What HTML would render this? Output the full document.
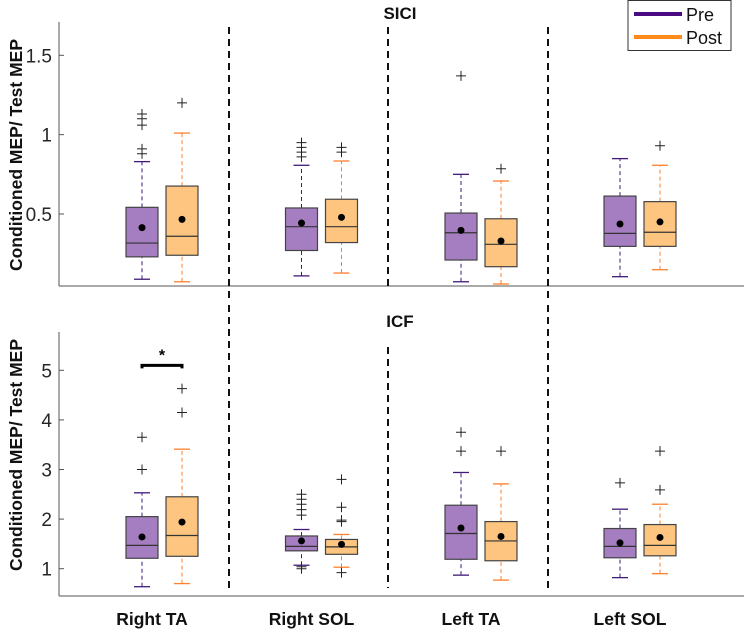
<!DOCTYPE html>
<html><head><meta charset="utf-8"><style>
body{margin:0;background:#fff}
svg{display:block;font-family:"Liberation Sans",Arial,sans-serif}
</style></head><body>
<svg id="chart" width="744" height="631" viewBox="0 0 744 631"></svg>
<script>
const categories=["Right TA","Right SOL","Left TA","Left SOL"];
const groups=["Pre","Post"];
// each: [lo, q1, median, q3, hi, mean]
const siciPre=[[0.089,0.23,0.317,0.542,0.83,0.414],[0.11,0.27,0.42,0.538,0.807,0.443],[0.073,0.21,0.382,0.506,0.75,0.397],[0.105,0.296,0.378,0.613,0.849,0.437]];
const siciPost=[[0.073,0.24,0.36,0.676,1.01,0.466],[0.128,0.32,0.42,0.593,0.834,0.479],[0.059,0.168,0.309,0.47,0.708,0.33],[0.149,0.296,0.385,0.578,0.807,0.45]];
const siciPreOut=[[1.13,1.10,1.06,0.91,0.88],[0.95,0.92,0.89,0.86],[1.37],[]];
const siciPostOut=[[1.2],[0.92,0.89],[0.785],[0.93]];
const icfPre=[[0.637,1.21,1.47,2.05,2.53,1.64],[1.07,1.36,1.45,1.66,1.79,1.56],[0.87,1.19,1.71,2.28,2.94,1.82],[0.82,1.22,1.45,1.81,2.2,1.52]];
const icfPost=[[0.70,1.25,1.67,2.45,3.41,1.94],[1.03,1.29,1.44,1.59,1.69,1.49],[0.77,1.16,1.56,1.95,2.71,1.65],[0.9,1.26,1.47,1.89,2.30,1.63]];
const icfPreOut=[[3.0,3.65],[2.5,2.4,2.3,2.19,2.08,1.04,1.0],[3.75,3.37],[2.73]];
const icfPostOut=[[4.15,4.63],[2.8,2.24,1.98,1.95,0.92],[3.37],[2.59,3.37]];
const siciTicks=[0.5,1,1.5];
const icfTicks=[1,2,3,4,5];

const svg=document.getElementById('chart');
const NS='http://www.w3.org/2000/svg';
function mk(tag,attrs,parent){const e=document.createElementNS(NS,tag);for(const k in attrs)e.setAttribute(k,attrs[k]);(parent||svg).appendChild(e);return e;}
const catX=[162,321.5,481,640];
const off=20, bw=32;
const colors={Pre:{fill:'#a57dc1',wh:'#3f1a7a'},Post:{fill:'#fdc57f',wh:'#ff7f2a'}};

function panel(name,yfn,top,base,ticks,pre,post,preOut,postOut,dashes){
  const g=mk('g',{});
  
  
  mk('line',{x1:59,y1:top,x2:59,y2:base,stroke:'#555','stroke-width':1},g);
  mk('line',{x1:59,y1:base,x2:744,y2:base,stroke:'#555','stroke-width':1},g);
  ticks.forEach(t=>{
    const y=yfn(t);
    mk('line',{x1:59,y1:y,x2:64,y2:y,stroke:'#555'},g);
    const tx=mk('text',{x:52,y:y+7,'text-anchor':'end','font-size':19,fill:'#262626'},g);
    tx.textContent=String(t);
    
    
  });
  dashes.forEach(d=>{
    const l=mk('line',{x1:d[0],y1:d[1],x2:d[0],y2:d[2],stroke:'#111','stroke-width':2,'stroke-dasharray':'7,5'},g);
    
    
  });
  [[pre,preOut,'Pre',-off],[post,postOut,'Post',off]].forEach(([data,outs,grp,dx])=>{
    data.forEach((s,i)=>{
      const cx=catX[i]+dx;
      const bg=mk('g',{},g);
      
      
      const c=colors[grp];
      mk('line',{x1:cx,y1:yfn(s[0]),x2:cx,y2:yfn(s[1]),stroke:c.wh,'stroke-dasharray':'4,3'},bg);
      mk('line',{x1:cx,y1:yfn(s[3]),x2:cx,y2:yfn(s[4]),stroke:c.wh,'stroke-dasharray':'4,3'},bg);
      mk('line',{x1:cx-8,y1:yfn(s[0]),x2:cx+8,y2:yfn(s[0]),stroke:c.wh,'stroke-width':1.3},bg);
      mk('line',{x1:cx-8,y1:yfn(s[4]),x2:cx+8,y2:yfn(s[4]),stroke:c.wh,'stroke-width':1.3},bg);
      mk('rect',{x:cx-bw/2,y:yfn(s[3]),width:bw,height:yfn(s[1])-yfn(s[3]),fill:c.fill,stroke:'#444','stroke-width':1.2},bg);
      mk('line',{x1:cx-bw/2,y1:yfn(s[2]),x2:cx+bw/2,y2:yfn(s[2]),stroke:'#333','stroke-width':1.2},bg);
      mk('circle',{cx:cx,cy:yfn(s[5]),r:3.5,fill:'#000'},bg);
      outs[i].forEach(v=>{
        const y=yfn(v);
        const p=mk('path',{d:`M${cx-5} ${y}H${cx+5}M${cx} ${y-5}V${y+5}`,stroke:'#222','stroke-width':1},bg);
        
        
      });
    });
  });
}
const ySici=v=>214-(v-0.5)*158.7;
const yIcf=v=>568.7-(v-1)*49.6;
panel('sici',ySici,22,286,siciTicks,siciPre,siciPost,siciPreOut,siciPostOut,[[229,27,300],[388,27,286],[548,27,300]]);
panel('icf',yIcf,332,596,icfTicks,icfPre,icfPost,icfPreOut,icfPostOut,[[229,305,588],[388,347,588],[548,305,588]]);

// significance bracket
const bx1=catX[0]-off, bx2=catX[0]+off, by=yIcf(5.1);
const br=mk('path',{d:`M${bx1} ${by+3}V${by}H${bx2}V${by+3}`,stroke:'#000','stroke-width':3,fill:'none'});


const st=mk('text',{x:catX[0],y:by-5,'text-anchor':'middle','font-size':16,'font-weight':'bold'});
st.textContent='*';



function txt(x,y,s,size,name,extra){const t=mk('text',Object.assign({x:x,y:y,'font-size':size,'font-weight':'bold','text-anchor':'middle',fill:'#111'},extra||{}));t.textContent=s;return t;}
txt(400,19,'SICI',17,'sici-title');
txt(400,327,'ICF',17,'icf-title');
txt(0,0,'Conditioned MEP/ Test MEP',17.5,'sici-y-axis-title',{transform:'translate(22,155) rotate(-90)'});
txt(0,0,'Conditioned MEP/ Test MEP',17.5,'icf-y-axis-title',{transform:'translate(22,455) rotate(-90)'});
categories.forEach((c,i)=>txt(catX[i]-10,625,c,17.5,'x-label-'+c.toLowerCase().replace(' ','-')));

// legend
const lg=mk('g',{});


mk('rect',{x:628,y:0.5,width:103,height:50,fill:'#fff',stroke:'#333','stroke-width':1},lg);
mk('line',{x1:634,y1:14,x2:682,y2:14,stroke:'#4b0a82','stroke-width':4},lg);
mk('line',{x1:634,y1:37,x2:682,y2:37,stroke:'#ff8a1a','stroke-width':4},lg);
groups.forEach((gname,i)=>{
  const t=mk('text',{x:686,y:21+i*23,'font-size':18,fill:'#111'},lg);
  t.textContent=gname;
  
  
});
</script>
</body></html>
